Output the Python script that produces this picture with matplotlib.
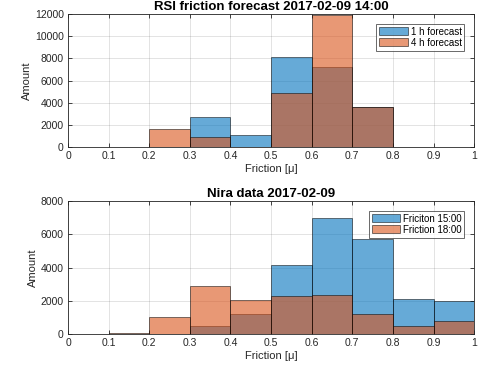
import matplotlib
matplotlib.use("Agg")
import matplotlib.pyplot as plt

plt.rcParams["font.family"] = ["Liberation Sans", "DejaVu Sans"]

# bin edges (left) for the friction histograms
bin_left = [0.0, 0.1, 0.2, 0.3, 0.4, 0.5, 0.6, 0.7, 0.8, 0.9]

# RSI forecast counts
forecast_1h = [0, 0, 0, 2700, 1090, 8130, 7190, 3640, 0, 0]
forecast_4h = [0, 0, 1600, 920, 0, 4850, 11870, 3630, 0, 0]

# Nira measurement counts
nira_1500 = [0, 30, 0, 490, 1180, 4150, 6960, 5710, 2080, 1980]
nira_1800 = [0, 40, 1000, 2870, 2020, 2290, 2320, 1220, 500, 800]

x_ticks = [0, 0.1, 0.2, 0.3, 0.4, 0.5, 0.6, 0.7, 0.8, 0.9, 1]
x_tick_labels = ["0", "0.1", "0.2", "0.3", "0.4", "0.5", "0.6", "0.7", "0.8", "0.9", "1"]

BLUE = (0.0, 0.447, 0.741)
ORANGE = (0.85, 0.325, 0.098)
AXIS_GREY = (0.15, 0.15, 0.15)


def style_axes(ax, ymax, ystep):
    ax.set_xlim(0, 1)
    ax.set_ylim(0, ymax)
    ax.set_xticks(x_ticks)
    ax.set_xticklabels(x_tick_labels)
    ax.set_yticks(range(0, ymax + 1, ystep))
    ax.grid(True, color=(0.15, 0.15, 0.15), alpha=0.15, linewidth=0.6)
    ax.set_axisbelow(True)
    ax.tick_params(direction="in", top=True, right=True, length=3,
                   width=0.6, labelsize=7.5, colors=AXIS_GREY, pad=3)
    for spine in ax.spines.values():
        spine.set_color(AXIS_GREY)
        spine.set_linewidth(0.6)
    ax.set_xlabel("Friction [\u03bc]", fontsize=8, color=AXIS_GREY, labelpad=2)
    ax.set_ylabel("Amount", fontsize=8, color=AXIS_GREY, labelpad=2)


def draw_hist(ax, values, color, label):
    ax.bar(bin_left, values, width=0.1, align="edge", color=color, alpha=0.6,
           edgecolor=(0, 0, 0, 0.6), linewidth=0.6, label=label)


fig = plt.figure(figsize=(5.02, 3.77), dpi=100)
ax1 = fig.add_axes([0.1355, 0.610, 0.809, 0.3528])
ax2 = fig.add_axes([0.1355, 0.114, 0.809, 0.3528])

draw_hist(ax1, forecast_1h, BLUE, "1 h forecast")
draw_hist(ax1, forecast_4h, ORANGE, "4 h forecast")
style_axes(ax1, 12000, 2000)
ax1.set_title("RSI friction forecast 2017-02-09 14:00", fontsize=9.5,
              fontweight="bold", pad=3)

draw_hist(ax2, nira_1500, BLUE, "Friciton 15:00")
draw_hist(ax2, nira_1800, ORANGE, "Friction 18:00")
style_axes(ax2, 8000, 2000)
ax2.set_title("Nira data 2017-02-09", fontsize=9.5, fontweight="bold", pad=3)

for ax in (ax1, ax2):
    leg = ax.legend(loc="upper right", fontsize=7, frameon=True, fancybox=False,
                    borderpad=0.3, handlelength=2.9, handleheight=0.9,
                    handletextpad=0.3, labelspacing=0.1, borderaxespad=1.0)
    leg.get_frame().set_edgecolor(AXIS_GREY)
    leg.get_frame().set_linewidth(0.6)

fig.savefig("out.png", dpi=100)
